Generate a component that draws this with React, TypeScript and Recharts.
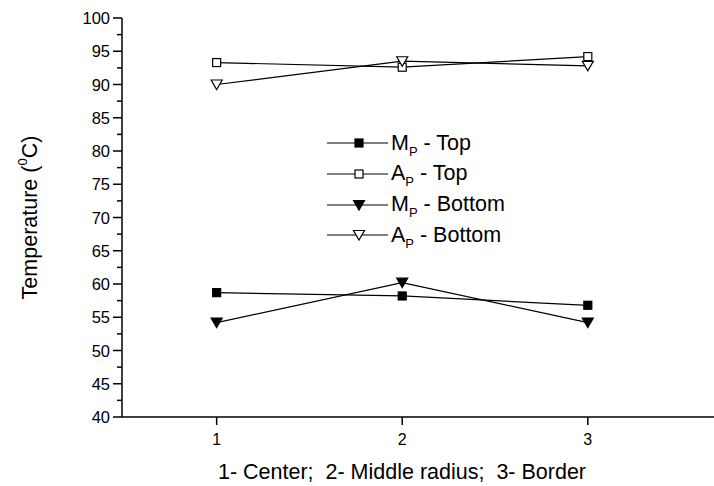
import { LineChart, Line, XAxis, YAxis } from 'recharts';

const positions = [1, 2, 3];
const mpTop = [58.7, 58.2, 56.8];
const apTop = [93.3, 92.6, 94.2];
const mpBottom = [54.2, 60.2, 54.2];
const apBottom = [90.0, 93.5, 92.8];
const yMajorTicks = [40, 45, 50, 55, 60, 65, 70, 75, 80, 85, 90, 95, 100];
const yMinorTicks = [42.5, 47.5, 52.5, 57.5, 62.5, 67.5, 72.5, 77.5, 82.5, 87.5, 92.5, 97.5];
const xTicks = [1, 2, 3];

const FONT = '"Liberation Sans", Arial, sans-serif';

const data = positions.map((p, i) => ({
  pos: p,
  mpTop: mpTop[i],
  apTop: apTop[i],
  mpBottom: mpBottom[i],
  apBottom: apBottom[i],
}));

type Shape = 'square' | 'triangle';

const Marker = ({ cx, cy, shape, filled }: { cx: number; cy: number; shape: Shape; filled: boolean }) => {
  const fill = filled ? '#000' : '#fff';
  if (shape === 'square') {
    return <rect x={cx - 4} y={cy - 4} width={8} height={8} fill={fill} stroke="#000" strokeWidth={1.2} />;
  }
  return (
    <polygon
      points={`${cx - 5.5},${cy - 4.5} ${cx + 5.5},${cy - 4.5} ${cx},${cy + 5}`}
      fill={fill}
      stroke="#000"
      strokeWidth={1.2}
    />
  );
};

const series = [
  { key: 'mpTop', main: 'M', shape: 'square' as Shape, filled: true, rest: ' - Top' },
  { key: 'apTop', main: 'A', shape: 'square' as Shape, filled: false, rest: ' - Top' },
  { key: 'mpBottom', main: 'M', shape: 'triangle' as Shape, filled: true, rest: ' - Bottom' },
  { key: 'apBottom', main: 'A', shape: 'triangle' as Shape, filled: false, rest: ' - Bottom' },
];

const YTick = (props: any) => {
  const { x, y, payload } = props;
  const major = yMajorTicks.includes(payload.value);
  return (
    <g>
      <line x1={x - (major ? 9 : 5)} x2={x} y1={y} y2={y} stroke="#000" strokeWidth={1.5} />
      {major && (
        <text x={x - 12} y={y} textAnchor="end" dominantBaseline="central" fontSize={16.5} fontFamily={FONT} fill="#000">
          {payload.value}
        </text>
      )}
    </g>
  );
};

const XTick = (props: any) => {
  const { x, y, payload } = props;
  return (
    <g>
      <line x1={x} x2={x} y1={y} y2={y + 8} stroke="#000" strokeWidth={1.5} />
      <text x={x} y={y + 22} textAnchor="middle" dominantBaseline="central" fontSize={16} fontFamily={FONT} fill="#000">
        {payload.value}
      </text>
    </g>
  );
};

const LegendBox = () => (
  <div style={{ fontFamily: FONT, fontSize: 21.5, color: '#000', lineHeight: 1 }}>
    {series.map((s) => (
      <div key={s.key} style={{ display: 'flex', alignItems: 'center', height: 30.7 }}>
        <svg width={62} height={20}>
          <line x1={0} x2={61} y1={10} y2={10} stroke="#000" strokeWidth={1.2} />
          <Marker cx={32} cy={10} shape={s.shape} filled={s.filled} />
        </svg>
        <span style={{ marginLeft: 2, whiteSpace: 'nowrap' }}>
          {s.main}
          <span style={{ fontSize: 13, position: 'relative', top: 6 }}>P</span>
          {s.rest}
        </span>
      </div>
    ))}
  </div>
);

export default function App() {
  return (
    <div style={{ position: 'absolute', left: 0, top: 0, width: 714, height: 486, background: '#fff' }}>
      <LineChart width={714} height={486} data={data} margin={{ top: 18, right: 0, bottom: 39, left: 0 }}>
        <XAxis
          dataKey="pos"
          type="number"
          domain={[0.49, 3.68]}
          ticks={xTicks}
          height={30}
          tick={<XTick />}
          tickLine={false}
          tickSize={0}
          tickMargin={0}
          axisLine={{ stroke: '#000', strokeWidth: 1.5 }}
          allowDataOverflow
          label={({ viewBox }: any) => (
            <text
              x={viewBox.x + viewBox.width / 2 - 16}
              y={viewBox.y + 55}
              textAnchor="middle"
              dominantBaseline="central"
              fontSize={21.5}
              fontFamily={FONT}
              fill="#000"
            >
              1- Center;{'\u00a0\u00a0'}2- Middle radius;{'\u00a0\u00a0'}3- Border
            </text>
          )}
        />
        <YAxis
          type="number"
          domain={[40, 100]}
          ticks={[...yMajorTicks, ...yMinorTicks].sort((a, b) => a - b)}
          interval={0}
          width={122}
          tick={<YTick />}
          tickLine={false}
          tickSize={0}
          tickMargin={0}
          axisLine={{ stroke: '#000', strokeWidth: 1.5 }}
          label={({ viewBox }: any) => {
            const cx = 30;
            const cy = viewBox.y + viewBox.height / 2 + 0;
            return (
              <text
                transform={`translate(${cx},${cy}) rotate(-90)`}
                textAnchor="middle"
                dominantBaseline="central"
                fontSize={21.5}
                fontFamily={FONT}
                fill="#000"
              >
                Temperature (<tspan fontSize={13} dy={-8}>0</tspan>
                <tspan dy={8}>C)</tspan>
              </text>
            );
          }}
        />
        {series.map((s) => (
          <Line
            key={s.key}
            dataKey={s.key}
            stroke="#000"
            strokeWidth={1.2}
            isAnimationActive={false}
            dot={(p: any) => <Marker key={`${s.key}-${p.index}`} cx={p.cx} cy={p.cy} shape={s.shape} filled={s.filled} />}
            activeDot={false}
          />
        ))}
      </LineChart>
      <div style={{ position: 'absolute', left: 327, top: 128 }}>
        <LegendBox />
      </div>
    </div>
  );
}
